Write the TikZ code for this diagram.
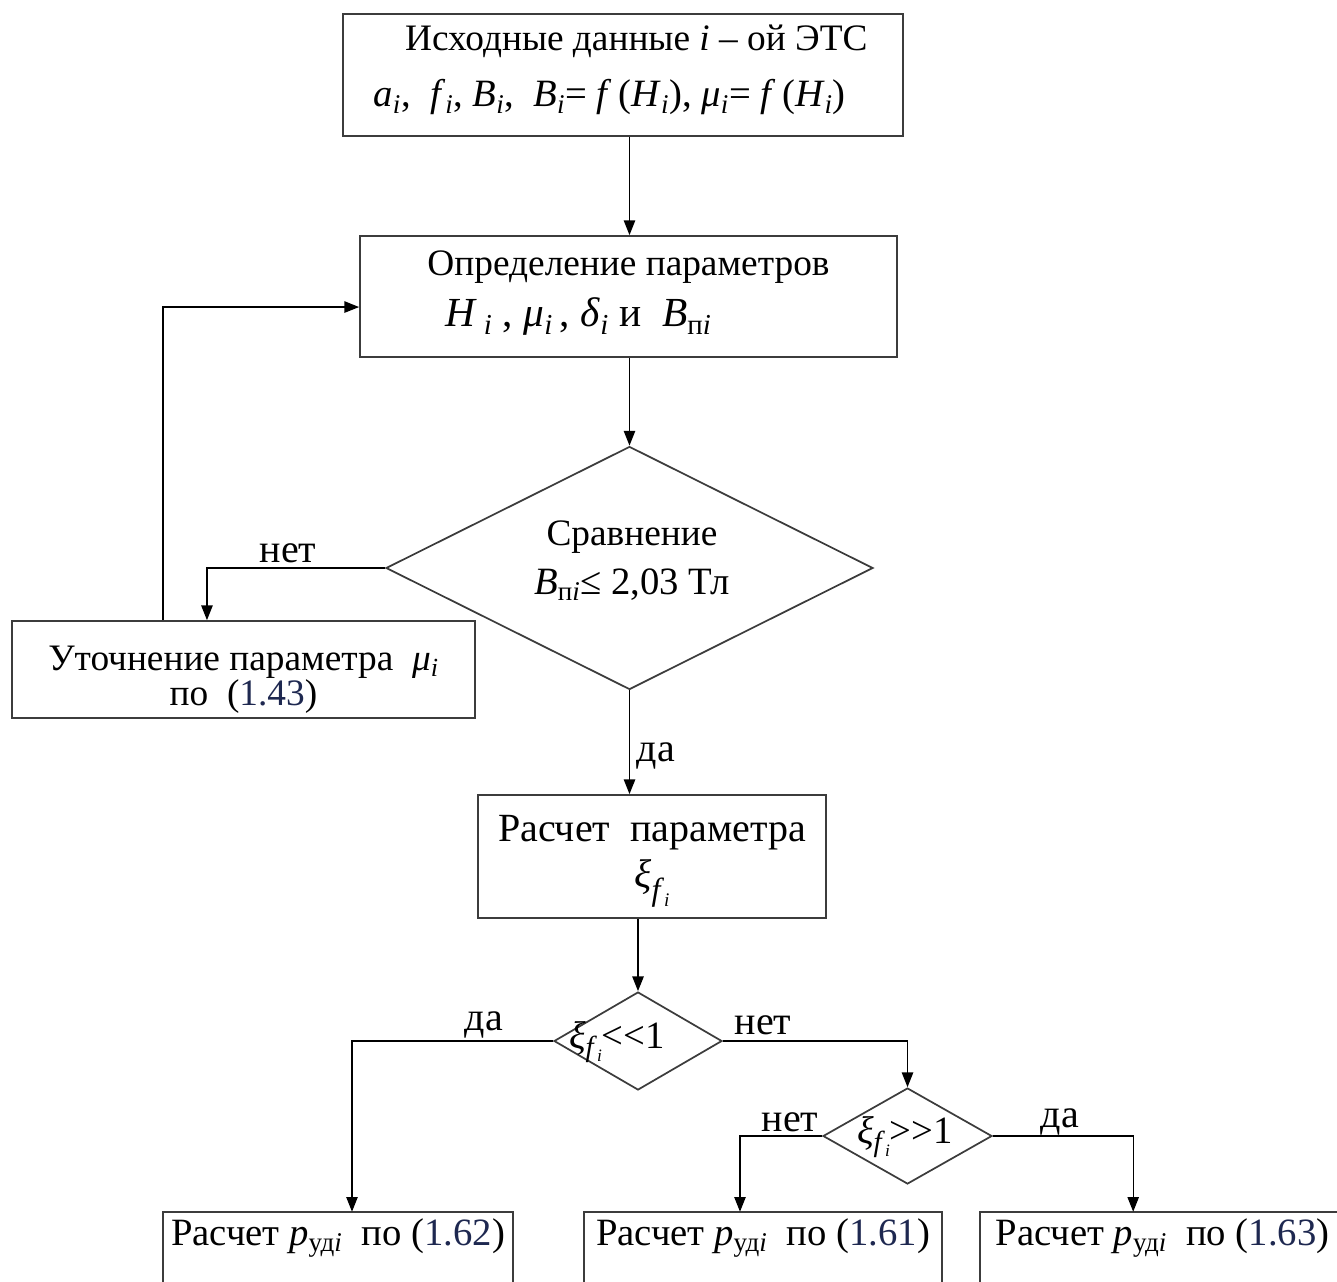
\documentclass[tikz,border=0pt]{standalone}
\usepackage{fontspec}
\usepackage{graphicx}
\setmainfont{Liberation Serif}
\usetikzlibrary{shapes.geometric,arrows.meta,calc}
\newcommand\sbi{\textsubscript{\textit{i}}}
\newcommand\xif{\textit{ξ}\raisebox{-0.32em}{\scalebox{0.8}{\textit{f}\raisebox{-0.2em}{\scalebox{0.6}{\textit{i}}}}}}
\newcommand\xifs{\textit{ξ}\raisebox{-0.22em}{\scalebox{0.75}{\textit{f}\raisebox{-0.15em}{\scalebox{0.6}{\textit{i}}}}}}
\newcommand\fsz[1]{\fontsize{#1}{#1}\selectfont}
\definecolor{eqc}{RGB}{30,40,80}
\definecolor{brd}{RGB}{60,60,60}
\tikzset{
  boxn/.style={draw=brd, line width=1.3pt, rectangle, inner sep=0pt, align=center},
  openbox/.style={rectangle, inner sep=0pt, align=center},
  dia/.style={draw=brd, line width=1.3pt, diamond, inner sep=0pt},
  arr/.style={line width=1pt, -{Triangle[length=11pt,width=8.5pt]}},
  lbl/.style={inner sep=0pt, font=\fsz{30}}
}
\begin{document}
\begin{tikzpicture}[x=0.75pt,y=-0.75pt]
\useasboundingbox (0,0) rectangle (1337,1281);
\clip (0,0) rectangle (1337,1281);
% boxes
\node[boxn, minimum width=420pt, minimum height=91.5pt] (b1) at (623,75) {};
\node[inner sep=0pt, align=center] (b1t) at (623,70)
  {\fsz{28}\hspace*{20pt}Исходные данные \textit{i} – ой ЭТС\\[15pt]
   \fsz{29}\textit{a}\sbi,\ \ \textit{f}\sbi, \textit{B}\sbi,\ \ \textit{B}\sbi= \textit{f}\,(\textit{H}\sbi), \textit{μ}\sbi= \textit{f}\,(\textit{H}\sbi)\hspace*{20pt}};
\node[boxn, minimum width=402.75pt, minimum height=90.75pt] (b2) at (628.5,296.5) {};
\node[inner sep=0pt, align=center] (b2t) at (628.5,293)
  {\fsz{28}Определение параметров\\[10pt]
   \fsz{31}\textit{H}\,\sbi\ , \textit{μ}\sbi\,, \textit{δ}\sbi\ и\ \ \textit{B}\textsubscript{п\textit{i}}\hspace*{75pt}};
\node[dia, minimum width=365.25pt, minimum height=182.25pt] (d1) at (629.5,568) {};
\node[align=center, inner sep=0pt] (d1t) at (632,561)
  {\fsz{28}Сравнение\\[10pt]\fsz{29}\textit{B}\textsubscript{п\textit{i}}≤ 2,03 Тл};
\node[boxn, minimum width=347.25pt, minimum height=72.75pt] (b3) at (243.5,669.5) {};
\node[inner sep=0pt, align=center] (b3t) at (243.5,680)
  {\fsz{28}Уточнение параметра\ \ \textit{μ}\sbi\\[0pt]\fsz{28}по\ \ (\textcolor{eqc}{1.43})};
\node[boxn, minimum width=261pt, minimum height=92.25pt] (b4) at (652,856.5) {};
\node[inner sep=0pt, align=center] (b4t) at (652,861)
  {\fsz{30}Расчет\ \ параметра\\[6pt]\fsz{30}\xif};
\node[dia, minimum width=126pt, minimum height=73.5pt] (d2) at (638,1041) {};
\node[inner sep=0pt] (d2t) at (617,1042) {\fsz{29}\xifs<{}<1};
\node[dia, minimum width=126.75pt, minimum height=72pt] (d3) at (907.5,1136) {};
\node[inner sep=0pt] (d3t) at (905,1137) {\fsz{29}\xifs>{}>1};
% bottom boxes (cut off by the page edge)
\node[openbox, minimum width=262.5pt, minimum height=39pt] (b5) at (338,1238)
  {\fsz{29}Расчет \textit{p}\textsubscript{уд\textit{i}}\ \ по (\textcolor{eqc}{1.62})};
\node[openbox, minimum width=268.5pt, minimum height=39pt] (b6) at (763,1238)
  {\fsz{29}Расчет \textit{p}\textsubscript{уд\textit{i}}\ \ по (\textcolor{eqc}{1.61})};
\node[openbox, minimum width=273.75pt, minimum height=39pt] (b7) at (1162.5,1238)
  {\fsz{29}Расчет \textit{p}\textsubscript{уд\textit{i}}\ \ по (\textcolor{eqc}{1.63})};
\foreach \b in {b5,b6,b7}{
  \draw[draw=brd, line width=1.3pt] (\b.south west) ++(0,60) -- (\b.north west) -- (\b.north east) -- ++(0,120);
}
% connectors
\draw[arr] (b1.south -| d1.north) -- (b2.north -| d1.north);
\draw[arr] (b2.south -| d1.north) -- (d1.north);
\draw[arr] (d1.west) -- ([xshift=-27.4pt]b3.north |- d1.west) -- ([xshift=-27.4pt]b3.north);
\draw[arr] ([xshift=-60.4pt]b3.north) -- ([xshift=-60.4pt,yshift=-7.9pt]b3.north |- b2.west) -- ([yshift=-7.9pt]b2.west);
\draw[arr] (d1.south) -- (b4.north -| d1.south);
\draw[arr] (b4.south -| d2.north) -- (d2.north);
\draw[arr] (d2.west) -- ([xshift=10.5pt]b5.north |- d2.west) -- ([xshift=10.5pt]b5.north);
\draw[arr] (d2.east) -- (d3.north |- d2.east) -- (d3.north);
\draw[arr] (d3.west) -- ([xshift=-17.25pt]b6.north |- d3.west) -- ([xshift=-17.25pt]b6.north);
\draw[arr] (d3.east) -- ([xshift=-22pt]b7.north |- d3.east) -- ([xshift=-22pt]b7.north);
% labels
\node[lbl] (l1) at (288,553) {нет};
\node[lbl] (l2) at (656,756) {да};
\node[lbl] (l3) at (484,1025) {да};
\node[lbl] (l4) at (763,1025) {нет};
\node[lbl] (l5) at (790,1122) {нет};
\node[lbl] (l6) at (1060,1122) {да};
\end{tikzpicture}
\end{document}
